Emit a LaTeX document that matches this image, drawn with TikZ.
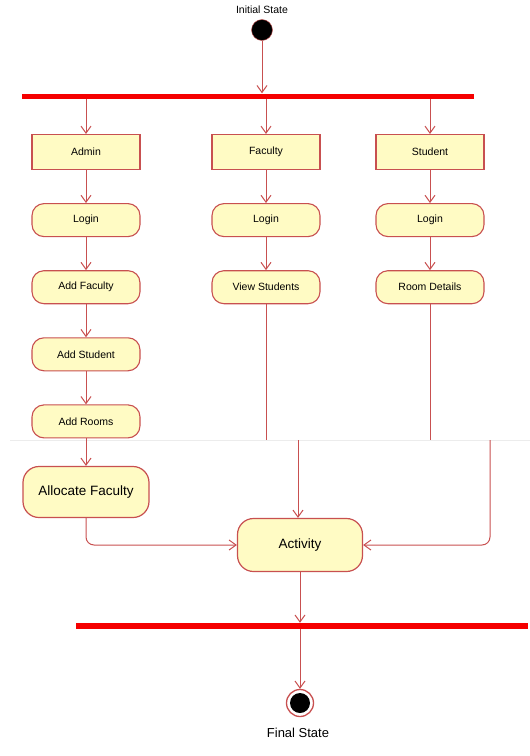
\documentclass[tikz,border=0pt]{standalone}
\usepackage{fontspec}
\setmainfont{Liberation Sans}
\usetikzlibrary{arrows.meta,positioning}
\definecolor{umlred}{RGB}{200,80,80}
\definecolor{umlfill}{RGB}{255,251,196}
\definecolor{barred}{RGB}{245,0,0}

\begin{document}
\begin{tikzpicture}[
      x=1pt, y=-1pt,
      node distance=33pt,
      swim/.style={draw=umlred, fill=umlfill, line width=1.1pt, minimum width=108pt, minimum height=35pt, font=\fontsize{10.5}{12}\selectfont},
      act/.style={swim, rounded corners=12pt, minimum height=33pt},
      bigact/.style={draw=umlred, fill=umlfill, line width=1.2pt, rounded corners=16pt, minimum width=126pt, minimum height=51pt, font=\fontsize{13.5}{15}\selectfont},
      bar/.style={fill=barred, inner sep=0pt, minimum height=5pt},
      flow/.style={draw=umlred, line width=1pt, -{Straight Barb[length=7pt,width=10pt]}},
      wire/.style={draw=umlred, line width=1pt}
    ]
    \useasboundingbox (0,0) rectangle (530,756);
    \node[font=\fontsize{10.5}{12}\selectfont] (initlbl) at (262,10) {Initial State};
    \node[circle, fill=black, draw=umlred, minimum size=21pt, inner sep=0pt] (init) at (262,30) {};
    \node[bar, minimum width=452pt] (fork) at (248,96) {};

    \node[swim] (admin) at (86,152) {Admin};
    \node[swim] (faculty) at (266,152) {Faculty};
    \node[swim] (student) at (430,152) {Student};
    \node[act, below=of admin] (alogin) {Login};
    \node[act, below=of alogin] (addfac) {Add Faculty};
    \node[act, below=of addfac] (addstu) {Add Student};
    \node[act, below=of addstu] (addroom) {Add Rooms};
    \node[act, below=of faculty] (flogin) {Login};
    \node[act, below=of flogin] (viewstu) {View Students};
    \node[act, below=of student] (slogin) {Login};
    \node[act, below=of slogin] (roomdet) {Room Details};

    % seam between the two halves
    \draw[gray!15] (10,440) -- (530,440);
    \coordinate (vscut) at (266,440);
    \coordinate (vsjoin) at (298,440);
    \coordinate (rdcut) at (430,440);
    \coordinate (rdjoin) at (490,440);

    \node[bigact] (alloc) at (86,492) {Allocate Faculty};
    \node[bigact, minimum width=125pt, minimum height=53pt] (activity) at (300,545) {Activity};
    \node[bar, minimum width=452pt, minimum height=6pt] (join) at (302,626) {};
    \node[circle, draw=umlred, line width=1.3pt, fill=white, minimum size=27pt, inner sep=0pt] (final) at (300,703) {};
    \node[circle, fill=black, minimum size=20pt, inner sep=0pt] (finaldot) at (final) {};
    \node[font=\fontsize{13}{15}\selectfont] (finallbl) at (298,733) {Final State};

    \draw[flow] (init) -- (init |- fork.north);
    \draw[flow] (admin |- fork.south) -- (admin);
    \draw[flow] (faculty |- fork.south) -- (faculty);
    \draw[flow] (student |- fork.south) -- (student);
    \draw[flow] (admin) -- (alogin);
    \draw[flow] (alogin) -- (addfac);
    \draw[flow] (addfac) -- (addstu);
    \draw[flow] (addstu) -- (addroom);
    \draw[flow] (addroom) -- (alloc);
    \draw[flow] (faculty) -- (flogin);
    \draw[flow] (flogin) -- (viewstu);
    \draw[flow] (student) -- (slogin);
    \draw[flow] (slogin) -- (roomdet);
    \draw[wire] (viewstu) -- (vscut);
    \draw[wire] (roomdet) -- (rdcut);

    \draw[flow] (vsjoin) -- (vsjoin |- activity.north);
    \draw[flow, rounded corners=8pt] (alloc) |- (activity);
    \draw[flow, rounded corners=8pt] (rdjoin) |- (activity);
    \draw[flow] (activity) -- (activity |- join.north);
    \draw[flow] (join.south -| activity) -- (final);
  \end{tikzpicture}
\end{document}
